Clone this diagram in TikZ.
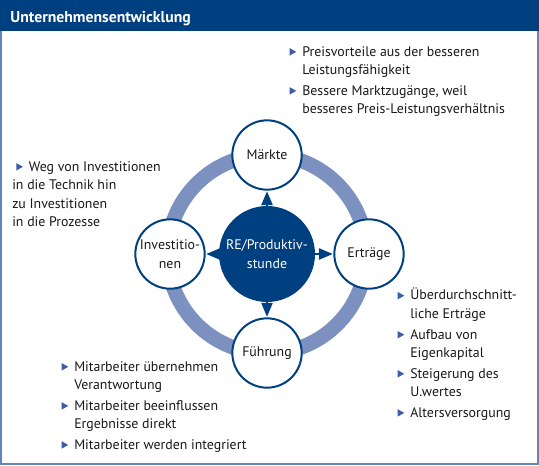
\documentclass[tikz,border=0pt]{standalone}
\usepackage{fontspec}
\setmainfont{PT Sans}
\usetikzlibrary{positioning, arrows}

\definecolor{darkblue}{RGB}{0,64,128}
\definecolor{ringblue}{RGB}{124,145,192}
\definecolor{bulletblue}{RGB}{60,92,170}
\definecolor{frameblue}{RGB}{96,134,190}
\definecolor{textgray}{RGB}{25,25,25}

\newcommand{\bulin}{\tikz[baseline=0pt]\fill[bulletblue] (0,0.4pt) -- (0,6pt) -- (5pt,3.2pt) -- cycle;\hspace{4.5pt}}
\newcommand{\bul}{\llap{\bulin}}

\begin{document}
\begin{tikzpicture}[x=0.75pt, y=-0.75pt, >=triangle 45, semithick,
    txt/.style={font=\fontsize{10.4}{13.9}\selectfont, text=textgray},
    block/.style={txt, align=left, anchor=north west, inner sep=0pt},
    station/.style={circle, draw=darkblue, line width=1.5pt, fill=white, minimum size=52pt, inner sep=0pt, txt, align=center},
    hub/.style={circle, fill=darkblue, minimum size=72pt, inner sep=0pt, align=center, font=\fontsize{10.4}{13.9}\selectfont, text=white}]
    \useasboundingbox (0,0) rectangle (539,465);

    % frame and title
    \fill[white] (0,0) rectangle (539,465);
    \draw[frameblue, line width=1.5pt] (1,20) -- (1,463.5) -- (537.5,463.5) -- (537.5,20);
    \fill[darkblue] (0,0) rectangle (539,31);
    \node[anchor=base west, inner sep=0pt, text=white, font=\fontsize{11.8}{13}\selectfont\bfseries] (title) at (10,22) {Unternehmensentwicklung};

    % ring
    \draw[ringblue, line width=11pt] (267,254) circle (74.5pt);

    % circles
    \node[hub] (re) at (267,254) {RE/Produktiv-\\stunde};
    \node[station] (maerkte) at (267,155) {Märkte};
    \node[station] (ertraege) at (369,254) {Erträge};
    \node[station] (inv) at (170,254) {Investitio-\\nen};
    \node[station] (fuehrung) at (267,353) {Führung};

    \path[->, darkblue, line width=1.4pt, shorten >=0.5pt]
    (re) edge (maerkte)
    (re) edge (ertraege)
    (re) edge (inv)
    (re) edge (fuehrung);

    % bullet texts
    \node[block] (markttext) at (302,46) {\bul Preisvorteile aus der besseren\\Leistungsfähigkeit\\[1.5pt]
        \bul Bessere Marktzugänge, weil\\besseres Preis-Leistungsverhältnis};
    \node[block] (invtext) at (12,161) {\hspace{3pt}\bulin Weg von Investitionen\\in die Technik hin\\zu Investitionen\\in die Prozesse};
    \node[block] (ertragtext) at (410,288) {\bul Überdurchschnitt-\\liche Erträge\\[1.5pt]
        \bul Aufbau von\\Eigenkapital\\[1.5pt]
        \bul Steigerung des\\U.wertes\\[1.5pt]
        \bul Altersversorgung};
    \node[block] (fuehrtext) at (74,361) {\bul Mitarbeiter übernehmen\\Verantwortung\\[1.5pt]
        \bul Mitarbeiter beeinflussen\\Ergebnisse direkt\\[1.5pt]
        \bul Mitarbeiter werden integriert};
\end{tikzpicture}
\end{document}
